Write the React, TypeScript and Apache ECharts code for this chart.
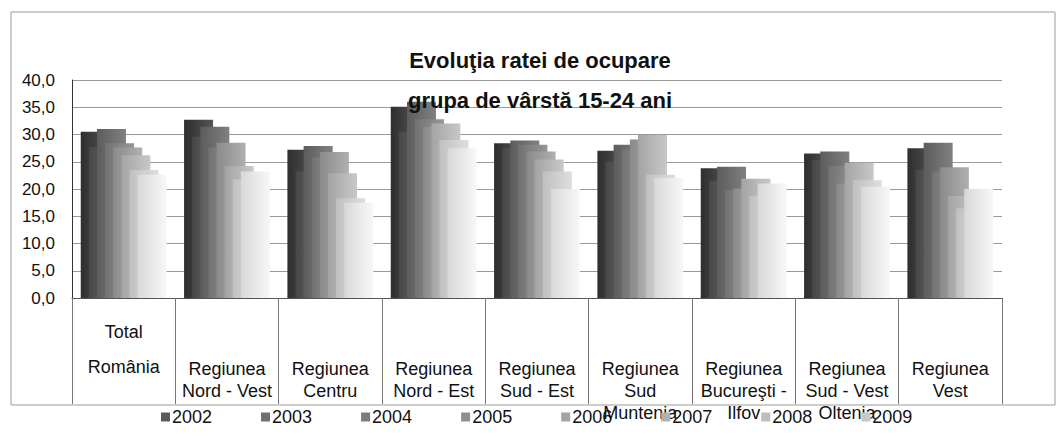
import React, { useEffect, useRef } from "react";
import * as echarts from "echarts";

const categories = [
  "Total\nRomânia",
  "Regiunea\nNord - Vest",
  "Regiunea\nCentru",
  "Regiunea\nNord - Est",
  "Regiunea\nSud - Est",
  "Regiunea\nSud\nMuntenia",
  "Regiunea\nBucureşti -\nIlfov",
  "Regiunea\nSud - Vest\nOltenia",
  "Regiunea\nVest",
];

const years = ["2002", "2003", "2004", "2005", "2006", "2007", "2008", "2009"];

// values per year, one per category
const v2002 = [30.5, 32.7, 27.2, 35.1, 28.4, 27.0, 23.8, 26.5, 27.5];
const v2003 = [27.7, 29.6, 23.2, 30.5, 27.5, 25.0, 21.5, 25.3, 23.5];
const v2004 = [31.0, 31.4, 27.9, 36.0, 28.9, 28.1, 24.1, 26.9, 28.5];
const v2005 = [28.4, 27.6, 25.8, 32.8, 28.1, 27.3, 19.8, 24.2, 23.2];
const v2006 = [27.6, 28.5, 26.8, 31.4, 26.9, 29.1, 20.1, 21.0, 24.0];
const v2007 = [26.2, 24.2, 22.9, 32.0, 25.4, 29.9, 21.9, 24.8, 18.7];
const v2008 = [23.5, 21.8, 18.3, 29.0, 23.2, 22.6, 18.7, 21.6, 16.4];
const v2009 = [22.6, 23.2, 17.5, 27.5, 20.0, 22.0, 21.0, 20.4, 20.0];

const seriesValues = [v2002, v2003, v2004, v2005, v2006, v2007, v2008, v2009];

const yTicks = { min: 0, max: 40, interval: 5 };

const barFrom = ["#2e2e2e", "#474747", "#5c5c5c", "#727272", "#8a8a8a", "#a4a4a4", "#c0c0c0", "#d8d8d8"];
const barTo = ["#555555", "#6a6a6a", "#808080", "#979797", "#b0b0b0", "#c8c8c8", "#dedede", "#f8f8f8"];
const legendColors = ["#5a5a5a", "#707070", "#7c7c7c", "#8e8e8e", "#a4a4a4", "#b2b2b2", "#bebebe", "#c8c8c8"];

const FONT = "'Liberation Sans', Arial, sans-serif";

export default function App() {
  const ref = useRef<HTMLDivElement>(null);

  useEffect(() => {
    if (!ref.current) return;
    const chart = echarts.init(ref.current, null, { renderer: "svg" });

    const catData = categories.map((c, i) =>
      i === 0
        ? { value: c, textStyle: { lineHeight: 35, padding: [-44, 0, 0, 0] } }
        : { value: c }
    );

    const series = seriesValues.map((vals, i) => ({
      name: years[i],
      type: "bar",
      data: vals,
      barWidth: 29,
      barGap: "-72%",
      itemStyle: {
        color: new echarts.graphic.LinearGradient(0, 0, 1, 0, [
          { offset: 0, color: barFrom[i] },
          { offset: 1, color: barTo[i] },
        ]),
      },
    }));

    chart.setOption({
      animation: false,
      backgroundColor: "#ffffff",
      title: {
        text: "Evoluţia ratei de ocupare\ngrupa de vârstă 15-24 ani",
        left: 535,
        top: 35,
        textAlign: "center",
        textStyle: {
          fontFamily: FONT,
          fontWeight: "bold",
          fontSize: 22,
          lineHeight: 40,
          color: "#111",
        },
      },
      legend: {
        data: years.map((y, i) => ({ name: y, itemStyle: { color: legendColors[i] } })),
        left: 156,
        top: 403,
        itemWidth: 9,
        itemHeight: 9,
        itemGap: 49,
        icon: "rect",
        textStyle: { fontFamily: FONT, fontSize: 18, color: "#111", padding: [0, 0, 0, -3] },
      },
      graphic: [
        {
          type: "rect",
          shape: { x: 11, y: 12, width: 1044, height: 393 },
          style: { fill: "none", stroke: "#9a9a9a", lineWidth: 1 },
          silent: true,
          z: -1,
        },
      ],
      grid: { left: 72, right: 58, top: 80, bottom: 147 },
      xAxis: {
        type: "category",
        data: catData,
        axisLine: { show: true, lineStyle: { color: "#555", width: 1 } },
        axisTick: {
          show: true,
          interval: 0,
          alignWithLabel: false,
          length: 106,
          lineStyle: { color: "#777" },
        },
        axisLabel: {
          interval: 0,
          margin: 60,
          verticalAlign: "top",
          lineHeight: 22,
          fontFamily: FONT,
          fontSize: 18,
          color: "#111",
        },
      },
      yAxis: {
        type: "value",
        min: yTicks.min,
        max: yTicks.max,
        interval: yTicks.interval,
        axisLine: { show: true, lineStyle: { color: "#333" } },
        axisTick: { show: false },
        splitLine: { lineStyle: { color: "#9a9a9a", width: 1 } },
        axisLabel: {
          margin: 17,
          fontFamily: FONT,
          fontSize: 17,
          color: "#111",
          formatter: (v: number) => v.toFixed(1).replace(".", ","),
        },
      },
      series,
    });

    return () => chart.dispose();
  }, []);

  return (
    <div
      ref={ref}
      style={{ position: "fixed", left: 0, top: 0, width: 1060, height: 445, background: "#fff" }}
    />
  );
}
